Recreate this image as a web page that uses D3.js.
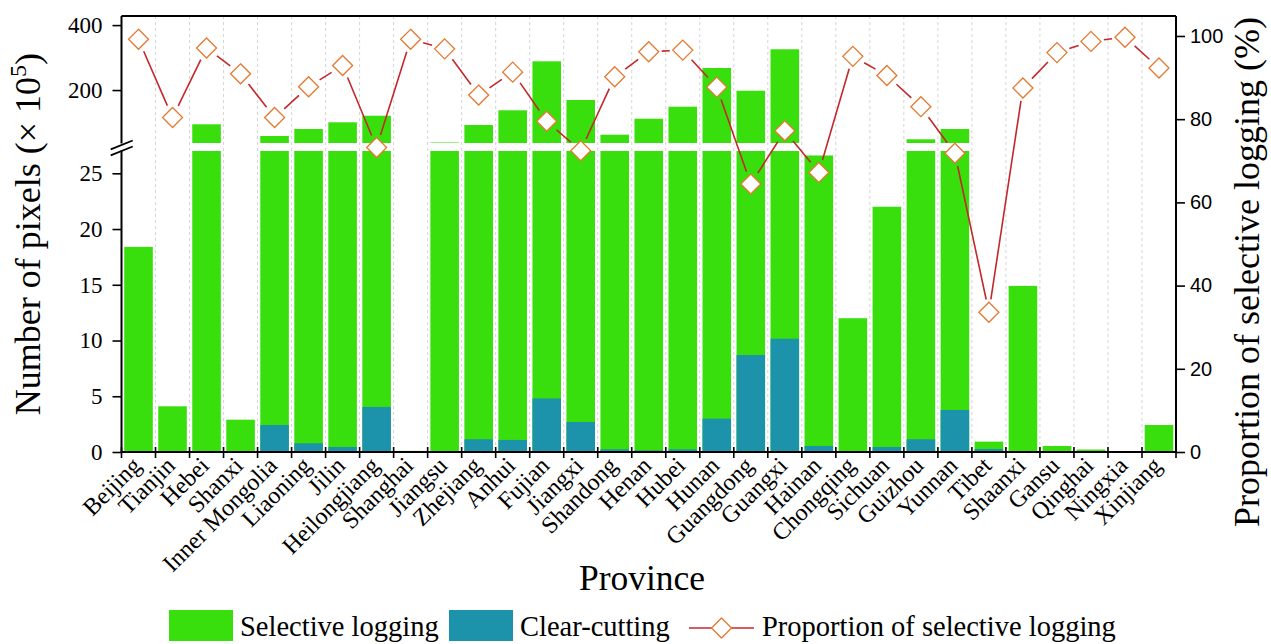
<!DOCTYPE html>
<html><head><meta charset="utf-8">
<script src="https://cdn.jsdelivr.net/npm/d3@7"></script>
<style>body{margin:0;background:#fff}svg{display:block}</style>
</head><body>
<svg id="chart" width="1271" height="644"></svg>
<script>
const provinces = ["Beijing","Tianjin","Hebei","Shanxi","Inner Mongolia","Liaoning","Jilin","Heilongjiang","Shanghai","Jiangsu","Zhejiang","Anhui","Fujian","Jiangxi","Shandong","Henan","Hubei","Hunan","Guangdong","Guangxi","Hainan","Chongqing","Sichuan","Guizhou","Yunnan","Tibet","Shaanxi","Gansu","Qinghai","Ningxia","Xinjiang"];
const selective = [18.4, 4.1, 94.6, 2.9, 58.6, 80.1, 100.7, 121, 0.1, 38.5, 92.4, 137.7, 288.5, 169.4, 62.6, 111.8, 148.8, 267.9, 198, 325.5, 26.6, 12.0, 22.0, 48.4, 80.1, 0.93, 14.9, 0.54, 0.22, 0.03, 2.42];
const clearCutting = [0, 0, 0, 0, 2.42, 0.78, 0.45, 4.04, 0, 0, 1.14, 1.08, 4.8, 2.69, 0.24, 0.15, 0.24, 2.99, 8.7, 10.16, 0.54, 0, 0.45, 1.14, 3.77, 0.27, 0, 0, 0, 0, 0];
const proportion = [99.2, 80.4, 97.1, 90.9, 80.4, 87.8, 92.9, 73.2, 99.2, 96.9, 85.8, 91.3, 79.5, 72.4, 90.2, 96.2, 96.6, 87.7, 64.4, 77.2, 67.2, 95.1, 90.5, 83.0, 71.8, 33.6, 87.5, 96.0, 98.7, 99.7, 92.3];
const leftTicksLower = [0, 5, 10, 15, 20, 25];
const leftTicksUpper = [200, 400];
const rightTicks = [0, 20, 40, 60, 80, 100];
const legendLabels = ["Selective logging", "Clear-cutting", "Proportion of selective logging"];

const GREEN = "#38df0c", BLUE = "#1d93ab", LINE = "#c3282b", MARK = "#e5782f";
const SERIF = "'Liberation Serif','Times New Roman',serif";
const SANS = "'Liberation Sans',Arial,sans-serif";

const L = 121.5, R = 1176, T = 16, B = 452;
const breakLow = 27, breakHigh = 37;
const lowTop = 151, upBottom = 143;

const svg = d3.select("#chart");
const x = d3.scaleBand().domain(provinces).range([L, R]).paddingInner(0.16).paddingOuter(0.08);
const yLow = d3.scaleLinear().domain([0, breakLow]).range([B, lowTop]);
const yUp = d3.scaleLinear().domain([breakHigh, 428]).range([upBottom, T]);
const yR = d3.scaleLinear().domain([0, 104.8]).range([B, T]);
const step = x.step();
const cellStart = d => x(d) - step * x.paddingInner() / 2;
const cx = d => x(d) + x.bandwidth() / 2;

// gridlines
svg.append("g").selectAll("line").data(provinces.slice(1)).join("line")
  .attr("x1", d => cellStart(d)).attr("x2", d => cellStart(d))
  .attr("y1", T).attr("y2", B)
  .attr("stroke", "#d4d4d4").attr("stroke-width", 1).attr("stroke-dasharray", "3,3");

// bars with broken axis
function drawBars(vals, color) {
  const g = svg.append("g");
  provinces.forEach((p, i) => {
    const v = vals[i];
    if (v <= 0) return;
    const lv = Math.min(v, breakLow);
    g.append("rect").attr("x", x(p)).attr("width", x.bandwidth())
      .attr("y", yLow(lv)).attr("height", yLow(0) - yLow(lv)).attr("fill", color);
    if (v > breakHigh) {
      g.append("rect").attr("x", x(p)).attr("width", x.bandwidth())
        .attr("y", yUp(v)).attr("height", yUp(breakHigh) - yUp(v)).attr("fill", color);
    }
  });
}
drawBars(selective, GREEN);
drawBars(clearCutting, BLUE);

// line with gaps near markers
const pts = provinces.map((p, i) => [cx(p), yR(proportion[i])]);
const gap = 13;
let dStr = "";
for (let i = 0; i < pts.length - 1; i++) {
  const [x1, y1] = pts[i], [x2, y2] = pts[i + 1];
  const len = Math.hypot(x2 - x1, y2 - y1);
  if (len <= 2 * gap) continue;
  const ux = (x2 - x1) / len, uy = (y2 - y1) / len;
  dStr += `M${x1 + ux * gap},${y1 + uy * gap}L${x2 - ux * gap},${y2 - uy * gap}`;
}
svg.append("path").attr("d", dStr).attr("stroke", LINE).attr("stroke-width", 1.6).attr("fill", "none");
const diamond = "M0,-10L10,0L0,10L-10,0Z";
svg.append("g").selectAll("path").data(pts).join("path")
  .attr("d", diamond).attr("transform", d => `translate(${d[0]},${d[1]})`)
  .attr("fill", "#fff").attr("stroke", MARK).attr("stroke-width", 1.3);

// axes frame
const frame = svg.append("g").attr("stroke", "#000").attr("stroke-width", 2);
frame.append("line").attr("x1", L).attr("x2", R).attr("y1", T).attr("y2", T);
frame.append("line").attr("x1", L).attr("x2", R).attr("y1", B).attr("y2", B);
frame.append("line").attr("x1", R).attr("x2", R).attr("y1", T).attr("y2", B);
frame.append("line").attr("x1", L).attr("x2", L).attr("y1", T).attr("y2", 143.5);
frame.append("line").attr("x1", L).attr("x2", L).attr("y1", 150.5).attr("y2", B);
frame.append("line").attr("x1", 110.7).attr("y1", 149.3).attr("x2", 132.7).attr("y2", 140.5).attr("stroke-width", 1.8);
frame.append("line").attr("x1", 110.7).attr("y1", 155.3).attr("x2", 132.7).attr("y2", 146.5).attr("stroke-width", 1.8);

function styleAxis(g, font, size) {
  g.select(".domain").remove();
  g.selectAll(".tick line").attr("stroke", "#000").attr("stroke-width", 1.6);
  g.selectAll(".tick text").attr("font-family", font).attr("font-size", size).attr("fill", "#000");
}
svg.append("g").attr("transform", `translate(${L},0)`)
  .call(d3.axisLeft(yLow).tickValues(leftTicksLower).tickSize(9).tickPadding(10))
  .call(g => styleAxis(g, SERIF, 23));
svg.append("g").attr("transform", `translate(${L},0)`)
  .call(d3.axisLeft(yUp).tickValues(leftTicksUpper).tickSize(9).tickPadding(10))
  .call(g => styleAxis(g, SERIF, 23));
svg.append("g").attr("transform", `translate(${R},0)`)
  .call(d3.axisRight(yR).tickValues(rightTicks).tickSize(9).tickPadding(5))
  .call(g => styleAxis(g, SANS, 20));

// bottom ticks at cell boundaries
const bounds = provinces.map(cellStart).concat([R]);
svg.append("g").selectAll("line").data(bounds).join("line")
  .attr("x1", d => d).attr("x2", d => d).attr("y1", B - 5).attr("y2", B + 6)
  .attr("stroke", "#000").attr("stroke-width", 1.6);

// x labels
svg.append("g").selectAll("text").data(provinces).join("text")
  .attr("transform", d => `translate(${cx(d) + 4},467) rotate(-45)`)
  .attr("text-anchor", "end").attr("font-family", SERIF).attr("font-size", 24).attr("fill", "#000")
  .text(d => d);

// axis titles
svg.append("text").attr("x", 642).attr("y", 590).attr("text-anchor", "middle")
  .attr("font-family", SERIF).attr("font-size", 35.5).text("Province");
const yt = svg.append("text").attr("transform", "translate(40,234) rotate(-90)")
  .attr("text-anchor", "middle").attr("font-family", SERIF).attr("font-size", 36);
yt.append("tspan").text("Number of pixels (× 10");
yt.append("tspan").attr("font-size", 24).attr("dy", -14).text("5");
yt.append("tspan").attr("dy", 14).text(")");
svg.append("text").attr("transform", "translate(1259,272) rotate(-90)")
  .attr("text-anchor", "middle").attr("font-family", SERIF).attr("font-size", 36)
  .text("Proportion of selective logging (%)");

// legend
const lg = svg.append("g");
lg.append("rect").attr("x", 169).attr("y", 610).attr("width", 64).attr("height", 31).attr("fill", GREEN);
lg.append("text").attr("x", 240).attr("y", 636).attr("font-family", SERIF).attr("font-size", 28.5).text(legendLabels[0]);
lg.append("rect").attr("x", 449).attr("y", 610).attr("width", 64).attr("height", 31).attr("fill", BLUE);
lg.append("text").attr("x", 520).attr("y", 636).attr("font-family", SERIF).attr("font-size", 28.5).text(legendLabels[1]);
lg.append("line").attr("x1", 689).attr("x2", 754).attr("y1", 628).attr("y2", 628).attr("stroke", LINE).attr("stroke-width", 1.6);
lg.append("path").attr("d", diamond).attr("transform", "translate(721.5,628)")
  .attr("fill", "#fff").attr("stroke", MARK).attr("stroke-width", 1.3);
lg.append("text").attr("x", 762).attr("y", 636).attr("font-family", SERIF).attr("font-size", 28.5).text(legendLabels[2]);
</script>
</body></html>
